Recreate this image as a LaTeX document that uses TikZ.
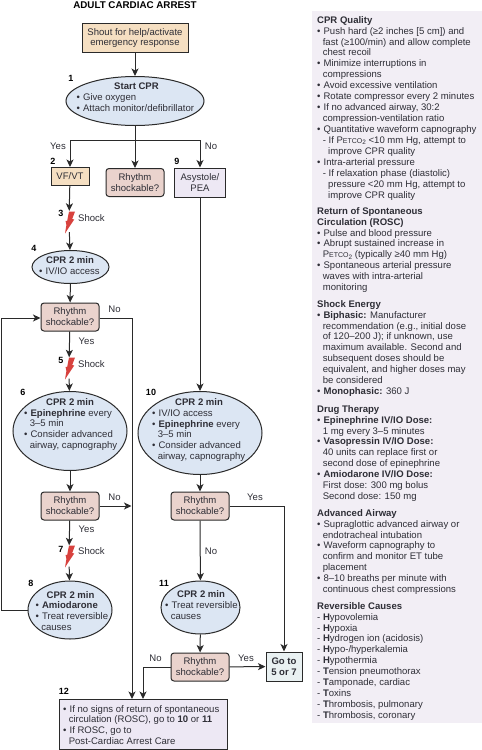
\documentclass[tikz,border=0pt]{standalone}
\usepackage{fontspec}
\setmainfont{Liberation Sans}
\usetikzlibrary{arrows.meta,shapes.geometric}
\definecolor{ink}{HTML}{2E2E36}
\definecolor{linecol}{HTML}{2A2A2A}
\definecolor{tanfill}{HTML}{F5DFC2}
\definecolor{bluefill}{HTML}{DCE6F3}
\definecolor{rosefill}{HTML}{EAD3CD}
\definecolor{lilacfill}{HTML}{EDE8F4}
\definecolor{panelfill}{HTML}{F2EEF5}
\definecolor{gofill}{HTML}{E9F1F2}
\definecolor{boltred}{HTML}{D8423E}
\newcommand{\bl}{\makebox[6.4pt][l]{•}}
\newcommand{\ct}{\hspace*{5.6pt}}
\newcommand{\dct}{\hspace*{11pt}}
\newcommand{\petco}{P{\fontsize{7}{8}\selectfont ETCO}\raisebox{-1.5pt}{\fontsize{6.4}{7}\selectfont 2}}
\tikzset{
  x=1pt,y=-1pt,
  every node/.style={text=ink,font=\fontsize{9.55}{10.94}\selectfont,inner sep=0pt},
  conn/.style={draw=linecol,line width=1pt},
  arr/.style={conn,-{Stealth[length=7.5pt,width=7pt,inset=2pt]}},
  boxed/.style={draw=linecol,line width=1pt,rectangle,align=center},
  tanbox/.style={boxed,fill=tanfill},
  rhythm/.style={boxed,fill=rosefill,rounded corners=3pt,minimum width=58pt,minimum height=28pt},
  lilac/.style={boxed,fill=lilacfill},
  oval/.style={draw=linecol,line width=1pt,fill=bluefill,ellipse,inner sep=0pt},
  ovaltext/.style={align=left,anchor=west},
  num/.style={font=\bfseries\fontsize{9}{10}\selectfont,text=black},
  lab/.style={text=ink},
  boltspot/.style={minimum width=10pt,minimum height=21pt},
  sect/.style={anchor=north west,align=left,text=ink},
}
\newcommand{\bolt}[2]{\fill[boltred,shift={(#1,#2)}] (0,-10.5) -- (6,-10.5) -- (3.2,-3) -- (5.2,-2.5) -- (-0.5,6) -- (-4,11.5) -- (-2.6,3) -- (-3.4,-1) -- (-1.8,-1.2) -- cycle;}
\begin{document}
\begin{tikzpicture}
\useasboundingbox (0,0) rectangle (482,750);
\fill[white] (0,0) rectangle (482,750);
\node[font=\bfseries\fontsize{9.8}{10}\selectfont,text=black] (title) at (135,5) {ADULT CARDIAC ARREST};

% panel
\node[fill=panelfill,minimum width=170pt,minimum height=712pt,anchor=north west] (panel) at (312,11) {};

% flow nodes
\node[tanbox,minimum width=106pt,minimum height=29pt] (shout) at (135,38) {Shout for help/activate\\emergency response};
\node[oval,minimum width=138pt,minimum height=49pt] (e1) at (135,101) {};
\node[ovaltext] (t1) at (76.5,97.5) {\hspace*{37.5pt}\textbf{Start CPR}\\\bl Give oxygen\\\bl Attach monitor/defibrillator};
\coordinate (split) at (135,140);
\coordinate (splitl) at (70,140);
\coordinate (splitr) at (200,140);
\node[tanbox,minimum width=38pt,minimum height=18pt] (vf) at (70,176.5) {VF/VT};
\node[rhythm] (r1) at (135,182.5) {Rhythm\\shockable?};
\node[lilac,minimum width=51pt,minimum height=29pt] (asy) at (200,182.5) {Asystole/\\PEA};
\node[boltspot] (b3) at (69,221.5) {};
\bolt{69}{222}
\node[lab,anchor=west] (s3) at (78,218.5) {Shock};
\node[oval,minimum width=77pt,minimum height=33pt] (e4) at (70.5,267) {};
\node[ovaltext] (t4) at (39,266) {\hspace*{7pt}\textbf{CPR 2 min}\\\bl IV/IO access};
\node[rhythm] (r2) at (70,317) {Rhythm\\shockable?};
\node[boltspot] (b5) at (69,368) {};
\bolt{69}{368}
\node[lab,anchor=west] (s5) at (78,364.5) {Shock};
\node[oval,minimum width=114pt,minimum height=79pt] (e6) at (70,431) {};
\node[ovaltext] (t6) at (24,424.5) {\hspace*{22pt}\textbf{CPR 2 min}\\\bl\textbf{Epinephrine} every\\\ct 3–5 min\\\bl Consider advanced\\\ct airway, capnography};
\node[rhythm] (r3) at (70,506) {Rhythm\\shockable?};
\node[boltspot] (b7) at (69,556) {};
\bolt{69}{556}
\node[lab,anchor=west] (s7) at (78,551) {Shock};
\node[oval,minimum width=84pt,minimum height=58pt] (e8) at (70,610) {};
\node[ovaltext] (t8) at (35.5,611) {\hspace*{11pt}\textbf{CPR 2 min}\\\bl\textbf{Amiodarone}\\\bl Treat reversible\\\ct causes};
\node[oval,minimum width=124pt,minimum height=83pt] (e10) at (200,433) {};
\node[ovaltext] (t10) at (152,430) {\hspace*{23pt}\textbf{CPR 2 min}\\\bl IV/IO access\\\bl\textbf{Epinephrine} every\\\ct 3–5 min\\\bl Consider advanced\\\ct airway, capnography};
\node[rhythm] (r4) at (200,506) {Rhythm\\shockable?};
\node[oval,minimum width=79pt,minimum height=53pt] (e11) at (200.5,607.5) {};
\node[ovaltext] (t11) at (165,605.5) {\hspace*{12pt}\textbf{CPR 2 min}\\\bl Treat reversible\\\ct causes};
\node[rhythm] (r5) at (200,667) {Rhythm\\shockable?};
\node[boxed,fill=gofill,minimum width=36pt,minimum height=29pt,font=\bfseries\fontsize{9.55}{10.94}\selectfont] (go) at (284,666.5) {Go to\\5 or 7};
\node[lilac,minimum width=168pt,minimum height=50pt] (e12) at (143,724) {};
\node[ovaltext] (t12) at (63,725) {\bl If no signs of return of spontaneous\\\ct circulation (ROSC), go to \textbf{10} or \textbf{11}\\\bl If ROSC, go to\\\ct Post-Cardiac Arrest Care};

% helper coordinates
\coordinate (rt2) at (132,318);
\coordinate (lft) at (1,610);
\coordinate (lfu) at (1,318);
\coordinate (rgo) at (284,506);
\coordinate (no5) at (143,667);
\coordinate (e12a) at (132,699);
\coordinate (e12b) at (143,699);
\coordinate (r3end) at (131.5,506);

% connectors
\draw[arr] (shout) -- (e1);
\draw[conn] (e1) -- (split);
\draw[conn] (splitl) -- (splitr);
\draw[arr] (split) -- (r1);
\draw[arr] (splitl) -- (splitl |- vf.north);
\draw[arr] (splitr) -- (splitr |- asy.north);
\draw[arr] (vf) -- (b3);
\draw[arr] (b3) -- (e4);
\draw[arr] (e4) -- (r2);
\draw[arr] (r2) -- (b5);
\draw[arr] (b5) -- (e6);
\draw[arr] (e6) -- (r3);
\draw[arr] (r3) -- (b7);
\draw[arr] (b7) -- (e8);
\draw[conn] (e8.west) -- (lft) -- (lfu);
\draw[arr] (lfu) -- (lfu -| r2.west);
\draw[conn] (lfu -| r2.east) -- (rt2);
\draw[arr] (rt2) -- (e12a);
\draw[arr] (r3) -- (r3end);
\draw[arr] (asy) -- (e10);
\draw[arr] (e10) -- (r4);
\draw[arr] (r4) -- (e11);
\draw[arr] (e11) -- (r5);
\draw[conn] (r4) -- (rgo);
\draw[arr] (rgo) -- (go);
\draw[arr] (r5) -- (go);
\draw[conn] (r5) -- (no5);
\draw[arr] (no5) -- (e12b);

% labels
\node[lab] (yes1) at (58,146) {Yes};
\node[lab] (no1) at (211,146) {No};
\node[lab] (no2) at (114.5,309) {No};
\node[lab] (yes2) at (86.5,341) {Yes};
\node[lab] (no3) at (114.5,497) {No};
\node[lab] (yes3) at (255,497) {Yes};
\node[lab] (yes4) at (86.5,529) {Yes};
\node[lab] (no4) at (211,551) {No};
\node[lab] (no5l) at (155.5,658) {No};
\node[lab] (yes5) at (246,658) {Yes};

% numbers
\node[num] (n1) at (71,78) {1};
\node[num] (n2) at (53,161) {2};
\node[num] (n9) at (177,161) {9};
\node[num] (n3) at (61,213) {3};
\node[num] (n4) at (34,248) {4};
\node[num] (n5) at (61,360) {5};
\node[num] (n6) at (23,392) {6};
\node[num] (n10) at (151,392) {10};
\node[num] (n7) at (61,549) {7};
\node[num] (n8) at (31,583) {8};
\node[num] (n11) at (164,583) {11};
\node[num] (n12) at (64,691) {12};

% side panel text
\node[sect] (q) at (317,16) {\textbf{CPR Quality}\\
\bl Push hard (≥2 inches [5 cm]) and\\
\ct fast (≥100/min) and allow complete\\
\ct chest recoil\\
\bl Minimize interruptions in\\
\ct compressions\\
\bl Avoid excessive ventilation\\
\bl Rotate compressor every 2 minutes\\
\bl If no advanced airway, 30:2\\
\ct compression-ventilation ratio\\
\bl Quantitative waveform capnography\\
\ct - If \petco{} <10 mm Hg, attempt to\\
\dct improve CPR quality\\
\bl Intra-arterial pressure\\
\ct - If relaxation phase (diastolic)\\
\dct pressure <20 mm Hg, attempt to\\
\dct improve CPR quality};
\node[sect] (r) at (317,207) {\textbf{Return of Spontaneous}\\
\textbf{Circulation (ROSC)}\\
\bl Pulse and blood pressure\\
\bl Abrupt sustained increase in\\
\ct \petco{} (typically ≥40 mm Hg)\\
\bl Spontaneous arterial pressure\\
\ct waves with intra-arterial\\
\ct monitoring};
\node[sect] (s) at (317,300) {\textbf{Shock Energy}\\
\bl\textbf{Biphasic:} Manufacturer\\
\ct recommendation (e.g., initial dose\\
\ct of 120–200 J); if unknown, use\\
\ct maximum available. Second and\\
\ct subsequent doses should be\\
\ct equivalent, and higher doses may\\
\ct be considered\\
\bl\textbf{Monophasic:} 360 J};
\node[sect] (d) at (317,405) {\textbf{Drug Therapy}\\
\bl\textbf{Epinephrine IV/IO Dose:}\\
\ct 1 mg every 3–5 minutes\\
\bl\textbf{Vasopressin IV/IO Dose:}\\
\ct 40 units can replace first or\\
\ct second dose of epinephrine\\
\bl\textbf{Amiodarone IV/IO Dose:}\\
\ct First dose: 300 mg bolus\\
\ct Second dose: 150 mg};
\node[sect] (a) at (317,509) {\textbf{Advanced Airway}\\
\bl Supraglottic advanced airway or\\
\ct endotracheal intubation\\
\bl Waveform capnography to\\
\ct confirm and monitor ET tube\\
\ct placement\\
\bl 8–10 breaths per minute with\\
\ct continuous chest compressions};
\node[sect] (c) at (317,602) {\textbf{Reversible Causes}\\
- \textbf{H}ypovolemia\\
- \textbf{H}ypoxia\\
- \textbf{H}ydrogen ion (acidosis)\\
- \textbf{H}ypo-/hyperkalemia\\
- \textbf{H}ypothermia\\
- \textbf{T}ension pneumothorax\\
- \textbf{T}amponade, cardiac\\
- \textbf{T}oxins\\
- \textbf{T}hrombosis, pulmonary\\
- \textbf{T}hrombosis, coronary};
\end{tikzpicture}
\end{document}
